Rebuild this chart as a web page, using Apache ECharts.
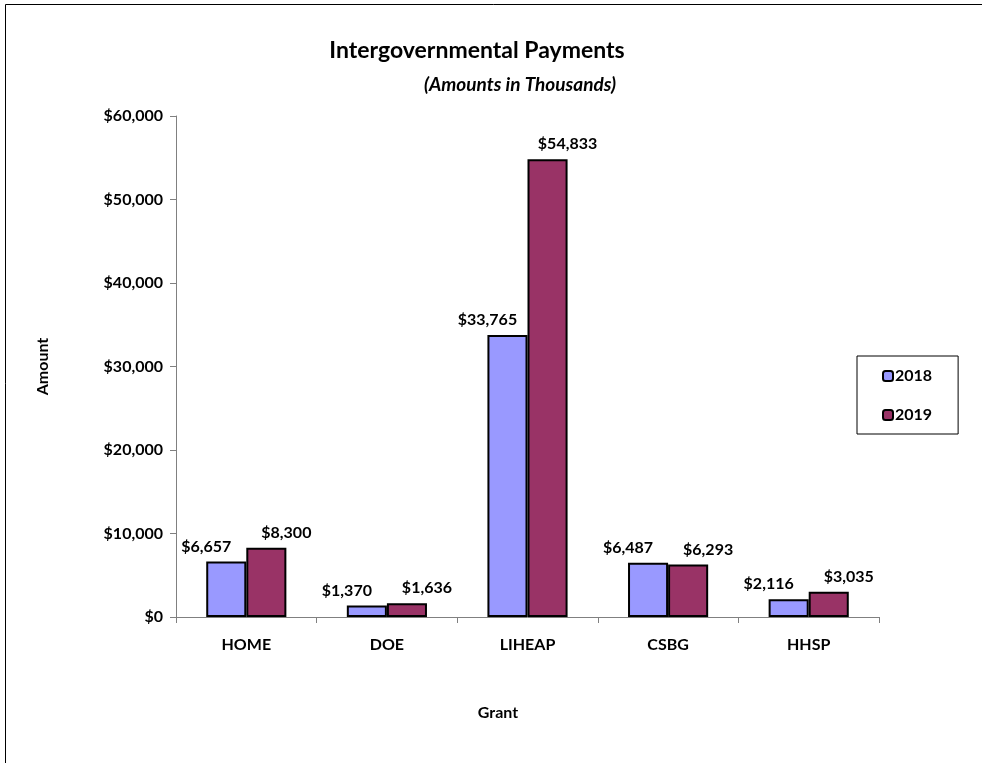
<!DOCTYPE html>
<html>
<head>
<meta charset="utf-8">
<script src="https://cdn.jsdelivr.net/npm/echarts@6/dist/echarts.min.js"></script>
<style>
html, body { margin: 0; padding: 0; background: #fff; }
#chart { width: 982px; height: 763px; }
</style>
</head>
<body>
<div id="chart"></div>
<script>
const grants = ['HOME', 'DOE', 'LIHEAP', 'CSBG', 'HHSP'];
const values2018 = [6657, 1370, 33765, 6487, 2116];
const values2019 = [8300, 1636, 54833, 6293, 3035];
const seriesNames = ['2018', '2019'];

const font = 'Lato, "Open Sans", sans-serif';
const weight = 'bold';
const money = v => '$' + Number(v).toLocaleString('en-US');

const chart = echarts.init(document.getElementById('chart'));

const option = {
    backgroundColor: '#fff',
    animation: false,
    textStyle: { fontFamily: font },
    title: [{
        text: 'Intergovernmental Payments',
        left: 472,
        textAlign: 'center',
        top: 34,
        textStyle: { fontFamily: font, fontSize: 23, fontWeight: weight, color: '#000' }
    }, {
        text: '(Amounts in Thousands)',
        left: 515,
        textAlign: 'center',
        top: 70,
        textStyle: { fontFamily: font, fontSize: 19, fontWeight: weight, fontStyle: 'italic', color: '#000' }
    }, {
        text: 'Grant',
        left: 493,
        textAlign: 'center',
        top: 700,
        textStyle: { fontFamily: font, fontSize: 16, fontWeight: weight, color: '#000' }
    }],
    legend: {
        orient: 'vertical',
        left: 857,
        top: 356,
        padding: [12, 26, 11, 25],
        itemGap: 23,
        itemWidth: 10,
        itemHeight: 10,
        borderColor: '#000',
        borderWidth: 1,
        textStyle: { fontFamily: font, fontSize: 16, fontWeight: weight, color: '#000', padding: [0, 0, 0, -3] },
        data: seriesNames
    },
    graphic: [{
        type: 'polyline',
        shape: { points: [[5.5, 763], [5.5, 4.5], [982, 4.5]] },
        style: { stroke: '#000', lineWidth: 1, fill: null }
    }],
    grid: { left: 176, right: 103, top: 116, bottom: 146 },
    xAxis: {
        type: 'category',
        data: grants,
        axisLine: { lineStyle: { color: '#808080', width: 1 } },
        axisTick: { show: true, length: 6, lineStyle: { color: '#808080' } },
        axisLabel: { fontFamily: font, fontSize: 16, fontWeight: weight, color: '#000', margin: 20 },
        splitLine: { show: false }
    },
    yAxis: {
        type: 'value',
        min: 0,
        max: 60000,
        interval: 10000,
        name: 'Amount',
        nameLocation: 'middle',
        nameGap: 125,
        nameRotate: 90,
        nameTextStyle: { fontFamily: font, fontSize: 16, fontWeight: weight, color: '#000' },
        axisLine: { show: true, lineStyle: { color: '#808080', width: 1 } },
        axisTick: { show: true, length: 6, lineStyle: { color: '#808080' } },
        axisLabel: { fontFamily: font, fontSize: 16, fontWeight: weight, color: '#000', margin: 13, formatter: money },
        splitLine: { show: false }
    },
    series: [{
        name: seriesNames[0],
        type: 'bar',
        data: values2018,
        barCategoryGap: '43%',
        barGap: '0%',
        itemStyle: { color: '#9999FF', borderColor: '#000', borderWidth: 2 },
        label: {
            show: true, position: 'top', distance: 7, offset: [-20, 0],
            fontFamily: font, fontSize: 16, fontWeight: weight, color: '#000',
            formatter: p => money(p.value)
        }
    }, {
        name: seriesNames[1],
        type: 'bar',
        data: values2019,
        barCategoryGap: '43%',
        barGap: '0%',
        itemStyle: { color: '#993366', borderColor: '#000', borderWidth: 2 },
        label: {
            show: true, position: 'top', distance: 7, offset: [20, 0],
            fontFamily: font, fontSize: 16, fontWeight: weight, color: '#000',
            formatter: p => money(p.value)
        }
    }]
};

chart.setOption(option);
</script>
</body>
</html>
